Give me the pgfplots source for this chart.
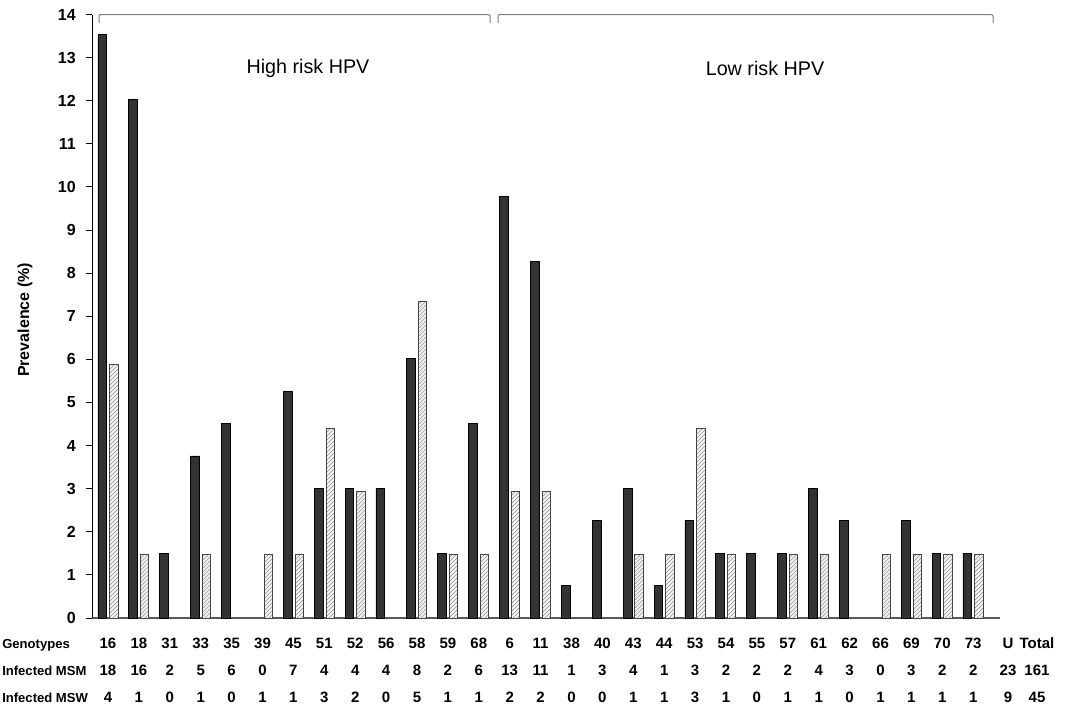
\documentclass[border=0pt]{standalone}
\usepackage{fontspec}
\setmainfont{Liberation Sans}
\usepackage{pgfplots}
\pgfplotsset{compat=1.18}
\usetikzlibrary{patterns}
\definecolor{msm}{HTML}{333333}
\definecolor{hatch}{HTML}{9A9A9A}
\definecolor{brk}{HTML}{808080}
\newcommand\tfont{\fontsize{11.25}{13}\selectfont\bfseries}
\newcommand\rfont{\fontsize{9.8}{12}\selectfont\bfseries}
\begin{document}
\begin{tikzpicture}
\begin{axis}[
  at={(69pt,-463.5pt)}, anchor=south west,
  scale only axis, width=681pt, height=452.6pt,
  xmin=-0.52, xmax=28.87, ymin=0, ymax=14,
  axis x line*=bottom, axis y line*=left,
  x axis line style={draw=gray!70!black, line width=1pt},
  y axis line style={draw=black, line width=0.75pt},
  xtick=\empty, ytick={0,1,...,14},
  tick align=outside, major tick length=4.5pt,
  ytick style={draw=black, line width=0.75pt},
  yticklabel style={font=\fontsize{12}{14}\selectfont\bfseries, anchor=east, inner xsep=2pt, xshift=-5.5pt},
  /pgf/number format/assume math mode=true,
  ybar, clip=false,
]
% infected MSM (%)
\addplot[ybar, bar width=6.6pt, bar shift=-4.3pt, fill=msm, draw=black, line width=0.6pt]
  coordinates {(0,13.53) (1,12.03) (2,1.50) (3,3.76) (4,4.51) (6,5.26) (7,3.01) (8,3.01)
  (9,3.01) (10,6.02) (11,1.50) (12,4.51) (13,9.77) (14,8.27) (15,0.75) (16,2.26) (17,3.01)
  (18,0.75) (19,2.26) (20,1.50) (21,1.50) (22,1.50) (23,3.01) (24,2.26) (26,2.26) (27,1.50) (28,1.50)};
% infected MSW (%)
\addplot[ybar, bar width=6.2pt, bar shift=4.3pt, fill=gray!10, draw=gray!55!black, line width=0.6pt,
  postaction={pattern=north east lines, pattern color=hatch}]
  coordinates {(0,5.88) (1,1.47) (3,1.47) (5,1.47) (6,1.47) (7,4.41) (8,2.94) (10,7.35)
  (11,1.47) (12,1.47) (13,2.94) (14,2.94) (17,1.47) (18,1.47) (19,4.41) (20,1.47) (22,1.47)
  (23,1.47) (25,1.47) (26,1.47) (27,1.47) (28,1.47)};
\end{axis}
\begin{scope}[x=0.75pt, y=-0.75pt]
  \draw[brk, line width=0.75pt, rounded corners=1pt] (99,23) |- (490,14.5) -- (490,23);
  \draw[brk, line width=0.75pt, rounded corners=1pt] (498,23) |- (993,14.5) -- (993,23);
  \node[font=\fontsize{14.8}{17}\selectfont] at (308,68) {High risk HPV};
  \node[font=\fontsize{14.8}{17}\selectfont] at (765,68) {Low risk HPV};
  \node[rotate=90, font=\fontsize{12}{14}\selectfont\bfseries] at (25,320) {Prevalence (\%)};
  \node[font=\rfont, anchor=base west, inner sep=0pt] at (2,648) {Genotypes};
  \node[font=\rfont, anchor=base west, inner sep=0pt] at (2,675) {Infected MSM};
  \node[font=\rfont, anchor=base west, inner sep=0pt] at (2,702) {Infected MSW};
  \foreach \g [count=\i from 0] in {16,18,31,33,35,39,45,51,52,56,58,59,68,6,11,38,40,43,44,53,54,55,57,61,62,66,69,70,73}
    \node[font=\tfont, anchor=base, inner sep=0pt] at ({108+30.9*\i},648) {\g};
  \foreach \g [count=\i from 0] in {18,16,2,5,6,0,7,4,4,4,8,2,6,13,11,1,3,4,1,3,2,2,2,4,3,0,3,2,2}
    \node[font=\tfont, anchor=base, inner sep=0pt] at ({108+30.9*\i},675) {\g};
  \foreach \g [count=\i from 0] in {4,1,0,1,0,1,1,3,2,0,5,1,1,2,2,0,0,1,1,3,1,0,1,1,0,1,1,1,1}
    \node[font=\tfont, anchor=base, inner sep=0pt] at ({108+30.9*\i},702) {\g};
  \node[font=\tfont, anchor=base, inner sep=0pt] at (1008,648) {U};
  \node[font=\tfont, anchor=base, inner sep=0pt] at (1008,675) {23};
  \node[font=\tfont, anchor=base, inner sep=0pt] at (1008,702) {9};
  \node[font=\tfont, anchor=base, inner sep=0pt] at (1037,648) {Total};
  \node[font=\tfont, anchor=base, inner sep=0pt] at (1037,675) {161};
  \node[font=\tfont, anchor=base, inner sep=0pt] at (1037,702) {45};
\end{scope}
\pgfresetboundingbox
\path[use as bounding box] (0,0) rectangle (801pt,-530.25pt);
\end{tikzpicture}
\end{document}
